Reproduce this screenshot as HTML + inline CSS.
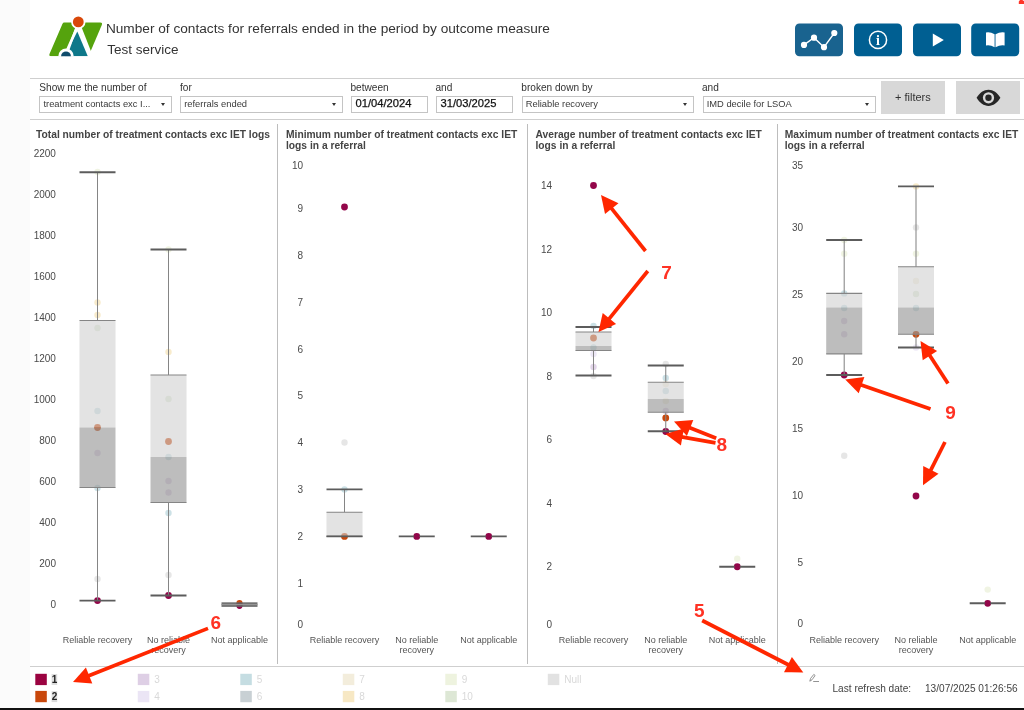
<!DOCTYPE html>
<html><head><meta charset="utf-8"><title>Number of contacts for referrals ended in the period by outcome measure</title>
<style>
html,body{margin:0;padding:0;}
body{width:1024px;height:710px;overflow:hidden;background:#fff;position:relative;font-family:"Liberation Sans",sans-serif;color:#333;}
#strip{position:absolute;left:0;top:0;width:30px;height:708px;background:#fbfbfb;}
#bot{position:absolute;left:0;top:708px;width:1024px;height:2px;background:#111;}
.hl{position:absolute;left:30px;width:994px;height:1px;background:#cfcfcf;}
.t1{position:absolute;left:105.9px;top:20.8px;font-size:13.66px;white-space:nowrap;color:#333;line-height:16px;}
.t2{position:absolute;left:107.3px;top:41.5px;font-size:13.5px;white-space:nowrap;color:#333;line-height:16px;}
.fl{position:absolute;top:81.9px;font-size:10.1px;line-height:12px;white-space:nowrap;color:#333;}
.sel{position:absolute;top:95.7px;height:15.8px;border:1px solid #c4c4c4;box-sizing:border-box;height:17px;background:#fff;}
.sel span{position:absolute;left:3.2px;top:1.7px;transform:translateY(0.6px);line-height:11px;white-space:nowrap;color:#3a3a3a;}
.sel i{position:absolute;right:5.6px;top:6.1px;width:0;height:0;border-left:2.7px solid transparent;border-right:2.7px solid transparent;border-top:3.3px solid #333;}
.gb{position:absolute;top:81.3px;width:64px;height:32.5px;background:#d8d8d8;}
svg text{font-family:"Liberation Sans",sans-serif;}
</style></head><body>
<div id="wrap" style="position:absolute;left:0;top:0;width:1024px;height:710px;will-change:transform">
<div id="strip"></div>
<svg style="position:absolute;left:40px;top:10px" width="70" height="52" viewBox="40 10 70 52">
<defs><clipPath id="lc"><rect x="40" y="10" width="70" height="46.3"/></clipPath></defs>
<g clip-path="url(#lc)">
<path d="M64.3 22.6 L78 22.6 L63 56.3 L51.2 56.3 Q48.6 56.3 49.6 53.8 L62.4 24 Q63 22.6 64.3 22.6 Z" fill="#55a30d"/>
<path d="M78.3 22.6 L100.2 22.6 Q102.8 22.6 101.8 25 L90.3 52 Z" fill="#55a30d"/>
<path d="M77.3 31.4 L87.8 56.3 L65 56.3 Z" fill="#0e788a"/>
<line x1="78.3" y1="22" x2="66" y2="56.3" stroke="#fff" stroke-width="2.1"/>
<line x1="78.3" y1="22" x2="90.3" y2="52.5" stroke="#fff" stroke-width="2.1"/>
<circle cx="78.3" cy="21.9" r="7.2" fill="#fff"/>
<circle cx="66" cy="56.3" r="7.7" fill="#fff"/>
<circle cx="66" cy="56.3" r="4.9" fill="#0f4c6b"/>
</g>
<circle cx="78.3" cy="21.9" r="5.4" fill="#d9480a"/>
</svg>
<div class="t1">Number of contacts for referrals ended in the period by outcome measure</div>
<div class="t2">Test service</div>
<svg width="1024" height="70" viewBox="0 0 1024 70" style="position:absolute;left:0;top:0"><g transform="translate(795,23.4)"><rect x="0" y="0" width="48" height="32.9" rx="4.5" fill="#19638f"/><g stroke="#fff" stroke-width="1.3" fill="#fff"><polyline points="9,21.5 19,14.3 29,23.8 39.3,9.6" fill="none"/><circle cx="9" cy="21.5" r="2.45"/><circle cx="19" cy="14.3" r="2.45"/><circle cx="29" cy="23.8" r="2.45"/><circle cx="39.3" cy="9.6" r="2.45"/></g></g><g transform="translate(854,23.4)"><rect x="0" y="0" width="48" height="32.9" rx="4.5" fill="#005f92"/><circle cx="24" cy="16.5" r="8.6" fill="none" stroke="#fff" stroke-width="1.5"/><text x="24" y="21.2" style="font-family:'Liberation Serif',serif;font-weight:bold;font-size:14px" fill="#fff" text-anchor="middle">i</text></g><g transform="translate(913,23.4)"><rect x="0" y="0" width="48" height="32.9" rx="4.5" fill="#005f92"/><polygon points="19.8,10.2 30.8,16.6 19.8,23" fill="#fff"/></g><g transform="translate(971.2,23.4)"><rect x="0" y="0" width="48" height="32.9" rx="4.5" fill="#005f92"/><path d="M14.8 9.0 Q19.2 8.2 23.4 10.8 L23.4 23.8 Q19.2 21.2 14.8 22 Z M24.3 10.8 Q28.8 8.2 33.4 9.0 L33.4 22 Q28.8 21.2 24.3 23.8 Z" fill="#fff"/></g></svg>
<div class="hl" style="top:77.6px"></div>
<div class="hl" style="top:118.8px"></div>
<div class="fl" style="left:39.3px">Show me the number of</div><div class="sel" style="left:39.25px;width:132.5px"><span style="font-size:9.35px">treatment contacts exc I...</span><i></i></div><div class="fl" style="left:180px">for</div><div class="sel" style="left:180px;width:162.5px"><span style="font-size:9.35px">referrals ended</span><i></i></div><div class="fl" style="left:350.5px">between</div><div class="sel" style="left:351.25px;width:76.25px"><span style="font-size:11.2px;color:#111;left:3.2px;top:1.8px;transform:none;-webkit-text-stroke:0.25px #111">01/04/2024</span></div><div class="fl" style="left:435.5px">and</div><div class="sel" style="left:436.25px;width:76.25px"><span style="font-size:11.2px;color:#111;left:3.2px;top:1.8px;transform:none;-webkit-text-stroke:0.25px #111">31/03/2025</span></div><div class="fl" style="left:521.3px">broken down by</div><div class="sel" style="left:521.5px;width:172.25px"><span style="font-size:9.35px">Reliable recovery</span><i></i></div><div class="fl" style="left:702px">and</div><div class="sel" style="left:702.5px;width:173px"><span style="font-size:9.35px">IMD decile for LSOA</span><i></i></div><div class="gb" style="left:881px"><span style="position:absolute;left:14px;top:9.3px;font-size:11px;color:#333">+ filters</span></div><div class="gb" style="left:956px"><svg width="64" height="32.5" viewBox="0 0 64 32.5" style="position:absolute;left:0;top:0"><path d="M20.6 16.8 C23.6 11.6 27.8 8.7 32.5 8.7 C37.2 8.7 41.4 11.6 44.4 16.8 C41.4 22 37.2 24.9 32.5 24.9 C27.8 24.9 23.6 22 20.6 16.8 Z" fill="#262626"/><circle cx="32.5" cy="16.8" r="5.6" fill="#d8d8d8"/><circle cx="32.5" cy="16.8" r="3.2" fill="#262626"/></svg></div>
<svg width="1024" height="710" viewBox="0 0 1024 710" style="position:absolute;left:0;top:0">
<line x1="277.5" y1="124" x2="277.5" y2="664" stroke="#bdbdbd" stroke-width="1"/>
<line x1="527.5" y1="124" x2="527.5" y2="664" stroke="#bdbdbd" stroke-width="1"/>
<line x1="777.5" y1="124" x2="777.5" y2="664" stroke="#bdbdbd" stroke-width="1"/>
<line x1="30" y1="666.5" x2="1024" y2="666.5" stroke="#cfcfcf" stroke-width="1"/>
<text x="36" y="137.7" font-size="10.25" font-weight="bold" fill="#444">Total number of treatment contacts exc IET logs</text>
<text x="33.7" y="157.2" font-size="10" fill="#4a4a4a" text-anchor="start">2200</text>
<text x="33.7" y="198.2" font-size="10" fill="#4a4a4a" text-anchor="start">2000</text>
<text x="33.7" y="239.2" font-size="10" fill="#4a4a4a" text-anchor="start">1800</text>
<text x="33.7" y="280.2" font-size="10" fill="#4a4a4a" text-anchor="start">1600</text>
<text x="33.7" y="321.2" font-size="10" fill="#4a4a4a" text-anchor="start">1400</text>
<text x="33.7" y="362.2" font-size="10" fill="#4a4a4a" text-anchor="start">1200</text>
<text x="33.7" y="403.2" font-size="10" fill="#4a4a4a" text-anchor="start">1000</text>
<text x="56" y="444.2" font-size="10" fill="#4a4a4a" text-anchor="end">800</text>
<text x="56" y="485.2" font-size="10" fill="#4a4a4a" text-anchor="end">600</text>
<text x="56" y="526.2" font-size="10" fill="#4a4a4a" text-anchor="end">400</text>
<text x="56" y="567.2" font-size="10" fill="#4a4a4a" text-anchor="end">200</text>
<text x="56" y="608.2" font-size="10" fill="#4a4a4a" text-anchor="end">0</text>
<circle cx="97.5" cy="172" r="3.2" fill="#bbcf7f" fill-opacity="0.22"/>
<circle cx="97.5" cy="302.5" r="3.2" fill="#dfa313" fill-opacity="0.22"/>
<circle cx="97.5" cy="315" r="3.2" fill="#dfa313" fill-opacity="0.22"/>
<circle cx="97.5" cy="328" r="3.2" fill="#779f57" fill-opacity="0.22"/>
<circle cx="97.5" cy="411" r="3.2" fill="#17778b" fill-opacity="0.22"/>
<circle cx="97.5" cy="427.5" r="3.4" fill="#c9480c" fill-opacity="1"/>
<circle cx="97.5" cy="453" r="3.2" fill="#7b3f99" fill-opacity="0.22"/>
<circle cx="97.5" cy="488" r="3.2" fill="#17778b" fill-opacity="0.22"/>
<circle cx="97.5" cy="579" r="3.2" fill="#8b8b8b" fill-opacity="0.22"/>
<circle cx="97.5" cy="600.6" r="3.4" fill="#93064a" fill-opacity="1"/>
<circle cx="168.5" cy="249.5" r="3.2" fill="#bbcf7f" fill-opacity="0.22"/>
<circle cx="168.5" cy="352" r="3.2" fill="#dfa313" fill-opacity="0.22"/>
<circle cx="168.5" cy="399" r="3.2" fill="#779f57" fill-opacity="0.22"/>
<circle cx="168.5" cy="441.5" r="3.4" fill="#c9480c" fill-opacity="1"/>
<circle cx="168.5" cy="457" r="3.2" fill="#17778b" fill-opacity="0.22"/>
<circle cx="168.5" cy="481" r="3.2" fill="#7b3f99" fill-opacity="0.22"/>
<circle cx="168.5" cy="492.5" r="3.2" fill="#7b3f99" fill-opacity="0.22"/>
<circle cx="168.5" cy="513" r="3.2" fill="#17778b" fill-opacity="0.22"/>
<circle cx="168.5" cy="575" r="3.2" fill="#8b8b8b" fill-opacity="0.22"/>
<circle cx="168.5" cy="595.5" r="3.4" fill="#93064a" fill-opacity="1"/>
<line x1="97.5" y1="172.2" x2="97.5" y2="320.5" stroke="#858585" stroke-width="1.05"/><line x1="97.5" y1="487.5" x2="97.5" y2="600.6" stroke="#858585" stroke-width="1.05"/><rect x="79.5" y="320.5" width="36" height="107.0" fill="rgb(208,208,208)" fill-opacity="0.6"/><rect x="79.5" y="427.5" width="36" height="60.0" fill="rgb(153,153,153)" fill-opacity="0.65"/>
<line x1="168.5" y1="249.5" x2="168.5" y2="375" stroke="#858585" stroke-width="1.05"/><line x1="168.5" y1="502.5" x2="168.5" y2="595.5" stroke="#858585" stroke-width="1.05"/><rect x="150.5" y="375" width="36" height="82" fill="rgb(208,208,208)" fill-opacity="0.6"/><rect x="150.5" y="457" width="36" height="45.5" fill="rgb(153,153,153)" fill-opacity="0.65"/>
<line x1="79.5" y1="320.5" x2="115.5" y2="320.5" stroke="#858585" stroke-width="1.1"/><line x1="79.5" y1="487.5" x2="115.5" y2="487.5" stroke="#858585" stroke-width="1.1"/><line x1="79.5" y1="172.2" x2="115.5" y2="172.2" stroke="#5c5c5c" stroke-width="1.9"/><line x1="79.5" y1="600.6" x2="115.5" y2="600.6" stroke="#5c5c5c" stroke-width="1.9"/>
<line x1="150.5" y1="375" x2="186.5" y2="375" stroke="#858585" stroke-width="1.1"/><line x1="150.5" y1="502.5" x2="186.5" y2="502.5" stroke="#858585" stroke-width="1.1"/><line x1="150.5" y1="249.5" x2="186.5" y2="249.5" stroke="#5c5c5c" stroke-width="1.9"/><line x1="150.5" y1="595.5" x2="186.5" y2="595.5" stroke="#5c5c5c" stroke-width="1.9"/>
<circle cx="239.5" cy="603.2" r="3.1" fill="#c9480c" fill-opacity="1"/>
<circle cx="239.5" cy="605.8" r="3.1" fill="#93064a" fill-opacity="1"/>
<rect x="221.5" y="602.3" width="36" height="4.6" fill="#636363" fill-opacity="0.9"/>
<line x1="221.5" y1="604.6" x2="257.5" y2="604.6" stroke="#9a9a9a" stroke-width="1"/>
<text x="97.5" y="642.5" font-size="9" fill="#555" text-anchor="middle">Reliable recovery</text>
<text x="239.5" y="642.5" font-size="9" fill="#555" text-anchor="middle">Not applicable</text>
<text x="168.5" y="642.5" font-size="9" fill="#555" text-anchor="middle">No reliable</text>
<text x="168.5" y="652.7" font-size="9" fill="#555" text-anchor="middle">recovery</text>
<text x="286" y="137.7" font-size="10.25" font-weight="bold" fill="#444">Minimum number of treatment contacts exc IET</text>
<text x="286" y="149.3" font-size="10.25" font-weight="bold" fill="#444">logs in a referral</text>
<text x="303" y="169.1" font-size="10" fill="#4a4a4a" text-anchor="end">10</text>
<text x="303" y="211.8" font-size="10" fill="#4a4a4a" text-anchor="end">9</text>
<text x="303" y="258.7" font-size="10" fill="#4a4a4a" text-anchor="end">8</text>
<text x="303" y="305.6" font-size="10" fill="#4a4a4a" text-anchor="end">7</text>
<text x="303" y="352.5" font-size="10" fill="#4a4a4a" text-anchor="end">6</text>
<text x="303" y="399.4" font-size="10" fill="#4a4a4a" text-anchor="end">5</text>
<text x="303" y="446.3" font-size="10" fill="#4a4a4a" text-anchor="end">4</text>
<text x="303" y="493.2" font-size="10" fill="#4a4a4a" text-anchor="end">3</text>
<text x="303" y="540.1" font-size="10" fill="#4a4a4a" text-anchor="end">2</text>
<text x="303" y="587.0" font-size="10" fill="#4a4a4a" text-anchor="end">1</text>
<text x="303" y="627.6" font-size="10" fill="#4a4a4a" text-anchor="end">0</text>
<circle cx="344.5" cy="207" r="3.4" fill="#93064a" fill-opacity="1"/>
<circle cx="344.5" cy="442.5" r="3.2" fill="#8b8b8b" fill-opacity="0.22"/>
<circle cx="344.5" cy="489.4" r="3.2" fill="#17778b" fill-opacity="0.22"/>
<circle cx="344.5" cy="536.4" r="3.4" fill="#c9480c" fill-opacity="1"/>
<line x1="344.5" y1="489.4" x2="344.5" y2="512.2" stroke="#858585" stroke-width="1.05"/><line x1="344.5" y1="536.4" x2="344.5" y2="536.4" stroke="#858585" stroke-width="1.05"/><rect x="326.5" y="512.2" width="36" height="24.199999999999932" fill="rgb(208,208,208)" fill-opacity="0.6"/><rect x="326.5" y="536.4" width="36" height="0.0" fill="rgb(153,153,153)" fill-opacity="0.65"/>
<line x1="326.5" y1="512.2" x2="362.5" y2="512.2" stroke="#858585" stroke-width="1.1"/><line x1="326.5" y1="536.4" x2="362.5" y2="536.4" stroke="#858585" stroke-width="1.1"/><line x1="326.5" y1="489.4" x2="362.5" y2="489.4" stroke="#5c5c5c" stroke-width="1.9"/><line x1="326.5" y1="536.4" x2="362.5" y2="536.4" stroke="#5c5c5c" stroke-width="1.9"/>
<circle cx="416.75" cy="536.4" r="3.4" fill="#93064a" fill-opacity="1"/>
<circle cx="488.75" cy="536.4" r="3.4" fill="#93064a" fill-opacity="1"/>
<line x1="398.75" y1="536.4" x2="434.75" y2="536.4" stroke="#5c5c5c" stroke-width="1.9"/>
<line x1="470.75" y1="536.4" x2="506.75" y2="536.4" stroke="#5c5c5c" stroke-width="1.9"/>
<circle cx="416.75" cy="536.4" r="2.6" fill="#93064a" fill-opacity="1"/>
<circle cx="488.75" cy="536.4" r="2.6" fill="#93064a" fill-opacity="1"/>
<text x="344.5" y="642.5" font-size="9" fill="#555" text-anchor="middle">Reliable recovery</text>
<text x="488.75" y="642.5" font-size="9" fill="#555" text-anchor="middle">Not applicable</text>
<text x="416.75" y="642.5" font-size="9" fill="#555" text-anchor="middle">No reliable</text>
<text x="416.75" y="652.7" font-size="9" fill="#555" text-anchor="middle">recovery</text>
<text x="535.5" y="137.7" font-size="10.25" font-weight="bold" fill="#444">Average number of treatment contacts exc IET</text>
<text x="535.5" y="149.3" font-size="10.25" font-weight="bold" fill="#444">logs in a referral</text>
<text x="552" y="189.1" font-size="10" fill="#4a4a4a" text-anchor="end">14</text>
<text x="552" y="252.6" font-size="10" fill="#4a4a4a" text-anchor="end">12</text>
<text x="552" y="316.2" font-size="10" fill="#4a4a4a" text-anchor="end">10</text>
<text x="552" y="379.7" font-size="10" fill="#4a4a4a" text-anchor="end">8</text>
<text x="552" y="443.2" font-size="10" fill="#4a4a4a" text-anchor="end">6</text>
<text x="552" y="506.8" font-size="10" fill="#4a4a4a" text-anchor="end">4</text>
<text x="552" y="570.3" font-size="10" fill="#4a4a4a" text-anchor="end">2</text>
<text x="552" y="627.6" font-size="10" fill="#4a4a4a" text-anchor="end">0</text>
<circle cx="593.5" cy="185.5" r="3.4" fill="#93064a" fill-opacity="1"/>
<circle cx="593.5" cy="326" r="3.2" fill="#17778b" fill-opacity="0.22"/>
<circle cx="593.5" cy="338" r="3.4" fill="#c9480c" fill-opacity="1"/>
<circle cx="593.5" cy="347.5" r="3.2" fill="#17778b" fill-opacity="0.22"/>
<circle cx="593.5" cy="354" r="3.2" fill="#af97d7" fill-opacity="0.22"/>
<circle cx="593.5" cy="367" r="3.2" fill="#7b3f99" fill-opacity="0.22"/>
<circle cx="593.5" cy="376" r="3.2" fill="#8b8b8b" fill-opacity="0.22"/>
<circle cx="665.75" cy="364" r="3.2" fill="#8b8b8b" fill-opacity="0.22"/>
<circle cx="665.75" cy="378" r="3.2" fill="#17778b" fill-opacity="0.22"/>
<circle cx="665.75" cy="384" r="3.2" fill="#cfb773" fill-opacity="0.22"/>
<circle cx="665.75" cy="391" r="3.2" fill="#17778b" fill-opacity="0.22"/>
<circle cx="665.75" cy="401" r="3.2" fill="#cfb773" fill-opacity="0.22"/>
<circle cx="665.75" cy="411" r="3.2" fill="#7b3f99" fill-opacity="0.22"/>
<circle cx="665.75" cy="417.9" r="3.4" fill="#c9480c" fill-opacity="1"/>
<circle cx="665.75" cy="431.5" r="3.4" fill="#93064a" fill-opacity="1"/>
<line x1="593.5" y1="327" x2="593.5" y2="332" stroke="#858585" stroke-width="1.05"/><line x1="593.5" y1="350.5" x2="593.5" y2="375.5" stroke="#858585" stroke-width="1.05"/><rect x="575.5" y="332" width="36" height="14" fill="rgb(208,208,208)" fill-opacity="0.6"/><rect x="575.5" y="346" width="36" height="4.5" fill="rgb(153,153,153)" fill-opacity="0.65"/>
<line x1="665.75" y1="365.5" x2="665.75" y2="382.3" stroke="#858585" stroke-width="1.05"/><line x1="665.75" y1="412.2" x2="665.75" y2="431.3" stroke="#858585" stroke-width="1.05"/><rect x="647.75" y="382.3" width="36" height="16.69999999999999" fill="rgb(208,208,208)" fill-opacity="0.6"/><rect x="647.75" y="399" width="36" height="13.199999999999989" fill="rgb(153,153,153)" fill-opacity="0.65"/>
<line x1="575.5" y1="332" x2="611.5" y2="332" stroke="#858585" stroke-width="1.1"/><line x1="575.5" y1="350.5" x2="611.5" y2="350.5" stroke="#858585" stroke-width="1.1"/><line x1="575.5" y1="327" x2="611.5" y2="327" stroke="#5c5c5c" stroke-width="1.9"/><line x1="575.5" y1="375.5" x2="611.5" y2="375.5" stroke="#5c5c5c" stroke-width="1.9"/>
<line x1="647.75" y1="382.3" x2="683.75" y2="382.3" stroke="#858585" stroke-width="1.1"/><line x1="647.75" y1="412.2" x2="683.75" y2="412.2" stroke="#858585" stroke-width="1.1"/><line x1="647.75" y1="365.5" x2="683.75" y2="365.5" stroke="#5c5c5c" stroke-width="1.9"/><line x1="647.75" y1="431.3" x2="683.75" y2="431.3" stroke="#5c5c5c" stroke-width="1.9"/>
<circle cx="737.25" cy="558.75" r="3.2" fill="#bbcf7f" fill-opacity="0.22"/>
<circle cx="737.25" cy="566.75" r="3.4" fill="#93064a" fill-opacity="1"/>
<line x1="719.25" y1="566.75" x2="755.25" y2="566.75" stroke="#5c5c5c" stroke-width="1.9"/>
<circle cx="737.25" cy="566.75" r="2.6" fill="#93064a" fill-opacity="1"/>
<text x="593.5" y="642.5" font-size="9" fill="#555" text-anchor="middle">Reliable recovery</text>
<text x="737.25" y="642.5" font-size="9" fill="#555" text-anchor="middle">Not applicable</text>
<text x="665.75" y="642.5" font-size="9" fill="#555" text-anchor="middle">No reliable</text>
<text x="665.75" y="652.7" font-size="9" fill="#555" text-anchor="middle">recovery</text>
<text x="784.75" y="137.7" font-size="10.25" font-weight="bold" fill="#444">Maximum number of treatment contacts exc IET</text>
<text x="784.75" y="149.3" font-size="10.25" font-weight="bold" fill="#444">logs in a referral</text>
<text x="803" y="169.3" font-size="10" fill="#4a4a4a" text-anchor="end">35</text>
<text x="803" y="231.0" font-size="10" fill="#4a4a4a" text-anchor="end">30</text>
<text x="803" y="298.0" font-size="10" fill="#4a4a4a" text-anchor="end">25</text>
<text x="803" y="365.0" font-size="10" fill="#4a4a4a" text-anchor="end">20</text>
<text x="803" y="432.0" font-size="10" fill="#4a4a4a" text-anchor="end">15</text>
<text x="803" y="499.0" font-size="10" fill="#4a4a4a" text-anchor="end">10</text>
<text x="803" y="566.0" font-size="10" fill="#4a4a4a" text-anchor="end">5</text>
<text x="803" y="627.1" font-size="10" fill="#4a4a4a" text-anchor="end">0</text>
<circle cx="844.2" cy="240" r="3.2" fill="#bbcf7f" fill-opacity="0.22"/>
<circle cx="844.2" cy="253.7" r="3.2" fill="#bbcf7f" fill-opacity="0.22"/>
<circle cx="844.2" cy="293.4" r="3.2" fill="#17778b" fill-opacity="0.22"/>
<circle cx="844.2" cy="308" r="3.2" fill="#17778b" fill-opacity="0.22"/>
<circle cx="844.2" cy="321" r="3.2" fill="#7b3f99" fill-opacity="0.22"/>
<circle cx="844.2" cy="334.3" r="3.2" fill="#7b3f99" fill-opacity="0.22"/>
<circle cx="844.2" cy="375" r="3.4" fill="#93064a" fill-opacity="1"/>
<circle cx="844.2" cy="455.8" r="3.2" fill="#8b8b8b" fill-opacity="0.22"/>
<circle cx="916" cy="186.4" r="3.2" fill="#dfa313" fill-opacity="0.22"/>
<circle cx="916" cy="227.4" r="3.2" fill="#8b8b8b" fill-opacity="0.22"/>
<circle cx="916" cy="253.7" r="3.2" fill="#bbcf7f" fill-opacity="0.22"/>
<circle cx="916" cy="281" r="3.2" fill="#cfb773" fill-opacity="0.22"/>
<circle cx="916" cy="294" r="3.2" fill="#779f57" fill-opacity="0.22"/>
<circle cx="916" cy="308" r="3.2" fill="#17778b" fill-opacity="0.22"/>
<circle cx="916" cy="334.3" r="3.4" fill="#c9480c" fill-opacity="1"/>
<circle cx="916" cy="347.5" r="3.2" fill="#af97d7" fill-opacity="0.22"/>
<circle cx="916" cy="496" r="3.4" fill="#93064a" fill-opacity="1"/>
<line x1="844.2" y1="240" x2="844.2" y2="293.4" stroke="#858585" stroke-width="1.05"/><line x1="844.2" y1="353.9" x2="844.2" y2="375" stroke="#858585" stroke-width="1.05"/><rect x="826.2" y="293.4" width="36" height="14.100000000000023" fill="rgb(208,208,208)" fill-opacity="0.6"/><rect x="826.2" y="307.5" width="36" height="46.39999999999998" fill="rgb(153,153,153)" fill-opacity="0.65"/>
<line x1="916" y1="186.4" x2="916" y2="266.8" stroke="#858585" stroke-width="1.05"/><line x1="916" y1="334.3" x2="916" y2="347.5" stroke="#858585" stroke-width="1.05"/><rect x="898" y="266.8" width="36" height="40.69999999999999" fill="rgb(208,208,208)" fill-opacity="0.6"/><rect x="898" y="307.5" width="36" height="26.80000000000001" fill="rgb(153,153,153)" fill-opacity="0.65"/>
<line x1="826.2" y1="293.4" x2="862.2" y2="293.4" stroke="#858585" stroke-width="1.1"/><line x1="826.2" y1="353.9" x2="862.2" y2="353.9" stroke="#858585" stroke-width="1.1"/><line x1="826.2" y1="240" x2="862.2" y2="240" stroke="#5c5c5c" stroke-width="1.9"/><line x1="826.2" y1="375" x2="862.2" y2="375" stroke="#5c5c5c" stroke-width="1.9"/>
<line x1="898" y1="266.8" x2="934" y2="266.8" stroke="#858585" stroke-width="1.1"/><line x1="898" y1="334.3" x2="934" y2="334.3" stroke="#858585" stroke-width="1.1"/><line x1="898" y1="186.4" x2="934" y2="186.4" stroke="#5c5c5c" stroke-width="1.9"/><line x1="898" y1="347.5" x2="934" y2="347.5" stroke="#5c5c5c" stroke-width="1.9"/>
<circle cx="987.7" cy="589.6" r="3.2" fill="#bbcf7f" fill-opacity="0.22"/>
<circle cx="987.7" cy="603.3" r="3.4" fill="#93064a" fill-opacity="1"/>
<line x1="969.7" y1="603.3" x2="1005.7" y2="603.3" stroke="#5c5c5c" stroke-width="1.9"/>
<circle cx="987.7" cy="603.3" r="2.6" fill="#93064a" fill-opacity="1"/>
<text x="844.2" y="642.5" font-size="9" fill="#555" text-anchor="middle">Reliable recovery</text>
<text x="987.7" y="642.5" font-size="9" fill="#555" text-anchor="middle">Not applicable</text>
<text x="916" y="642.5" font-size="9" fill="#555" text-anchor="middle">No reliable</text>
<text x="916" y="652.7" font-size="9" fill="#555" text-anchor="middle">recovery</text>
<rect x="35.3" y="673.8" width="11.5" height="11.3" fill="#9b0341" fill-opacity="1"/>
<rect x="51.599999999999994" y="674.0" width="5.6" height="11" fill="#dcdcdc"/>
<text x="51.699999999999996" y="683.0" font-size="10" font-weight="bold" fill="#222">1</text>
<rect x="35.3" y="690.9" width="11.5" height="11.3" fill="#c9480c" fill-opacity="1"/>
<rect x="51.599999999999994" y="691.1" width="5.6" height="11" fill="#dcdcdc"/>
<text x="51.699999999999996" y="700.1" font-size="10" font-weight="bold" fill="#222">2</text>
<rect x="137.8" y="673.8" width="11.5" height="11.3" fill="#7b3f99" fill-opacity="0.25"/>
<text x="154.20000000000002" y="683.0" font-size="10" fill="#d9d9d9">3</text>
<rect x="137.8" y="690.9" width="11.5" height="11.3" fill="#af97d7" fill-opacity="0.25"/>
<text x="154.20000000000002" y="700.1" font-size="10" fill="#d9d9d9">4</text>
<rect x="240.3" y="673.8" width="11.5" height="11.3" fill="#17778b" fill-opacity="0.25"/>
<text x="256.7" y="683.0" font-size="10" fill="#d9d9d9">5</text>
<rect x="240.3" y="690.9" width="11.5" height="11.3" fill="#234353" fill-opacity="0.25"/>
<text x="256.7" y="700.1" font-size="10" fill="#d9d9d9">6</text>
<rect x="342.8" y="673.8" width="11.5" height="11.3" fill="#cfb773" fill-opacity="0.25"/>
<text x="359.2" y="683.0" font-size="10" fill="#d9d9d9">7</text>
<rect x="342.8" y="690.9" width="11.5" height="11.3" fill="#dfa313" fill-opacity="0.25"/>
<text x="359.2" y="700.1" font-size="10" fill="#d9d9d9">8</text>
<rect x="445.3" y="673.8" width="11.5" height="11.3" fill="#bbcf7f" fill-opacity="0.25"/>
<text x="461.7" y="683.0" font-size="10" fill="#d9d9d9">9</text>
<rect x="445.3" y="690.9" width="11.5" height="11.3" fill="#779f57" fill-opacity="0.25"/>
<text x="461.7" y="700.1" font-size="10" fill="#d9d9d9">10</text>
<rect x="547.8" y="673.8" width="11.5" height="11.3" fill="#8b8b8b" fill-opacity="0.25"/>
<text x="564.1999999999999" y="683.0" font-size="10" fill="#d9d9d9">Null</text>
<text x="832.5" y="691.6" font-size="10.1" fill="#444">Last refresh date:</text>
<text x="925" y="691.6" font-size="10.1" fill="#444">13/07/2025 01:26:56</text>
<g stroke="#777" stroke-width="0.8" fill="none"><path d="M809.8 681.2 L810.6 678.4 L813.8 674.4 L815.1 675.5 L812 679.8 Z"/><line x1="813.2" y1="681.5" x2="819" y2="681.5"/></g>
<line x1="208.0" y1="628.4" x2="88.1" y2="676.0" stroke="#ff2700" stroke-width="3.7"/><polygon points="73.0,682.0 92.3,683.6 85.9,667.6" fill="#ff2700"/>
<text x="215.75" y="629.0" font-size="19" font-weight="bold" fill="#ff3224" text-anchor="middle">6</text>
<line x1="702.2" y1="620.5" x2="788.8" y2="665.0" stroke="#ff2700" stroke-width="3.7"/><polygon points="803.3,672.5 791.9,656.9 784.0,672.2" fill="#ff2700"/>
<text x="699.4" y="617.4" font-size="19" font-weight="bold" fill="#ff3224" text-anchor="middle">5</text>
<line x1="645.5" y1="251.0" x2="611.1" y2="207.8" stroke="#ff2700" stroke-width="3.7"/><polygon points="601.0,195.0 605.0,213.9 618.5,203.2" fill="#ff2700"/>
<line x1="647.8" y1="271.0" x2="608.7" y2="319.3" stroke="#ff2700" stroke-width="3.7"/><polygon points="598.5,332.0 616.1,323.9 602.7,313.1" fill="#ff2700"/>
<text x="666.5" y="278.8" font-size="19" font-weight="bold" fill="#ff3224" text-anchor="middle">7</text>
<line x1="716.2" y1="438.2" x2="689.2" y2="427.5" stroke="#ff2700" stroke-width="3.7"/><polygon points="674.0,421.5 686.9,435.9 693.3,419.9" fill="#ff2700"/>
<line x1="715.5" y1="442.9" x2="681.4" y2="436.9" stroke="#ff2700" stroke-width="3.7"/><polygon points="665.4,434.0 680.9,445.5 683.9,428.6" fill="#ff2700"/>
<text x="721.7" y="451.3" font-size="19" font-weight="bold" fill="#ff3224" text-anchor="middle">8</text>
<line x1="930.5" y1="409.0" x2="860.6" y2="384.7" stroke="#ff2700" stroke-width="3.7"/><polygon points="845.2,379.4 858.7,393.2 864.4,376.9" fill="#ff2700"/>
<line x1="948.0" y1="383.6" x2="929.3" y2="354.7" stroke="#ff2700" stroke-width="3.7"/><polygon points="920.5,341.0 922.7,360.2 937.1,350.9" fill="#ff2700"/>
<line x1="945.0" y1="442.0" x2="930.4" y2="470.8" stroke="#ff2700" stroke-width="3.7"/><polygon points="923.0,485.3 938.5,473.8 923.2,466.0" fill="#ff2700"/>
<text x="950.5" y="419.3" font-size="19" font-weight="bold" fill="#ff3224" text-anchor="middle">9</text>
<polygon points="1018.8,3.9 1018.8,1.6 1020,0 1022.8,0 1022.8,0.8 1024,0.8 1024,3.9" fill="#ff3528"/>
</svg>
<div id="bot"></div>
</div>
</body></html>
